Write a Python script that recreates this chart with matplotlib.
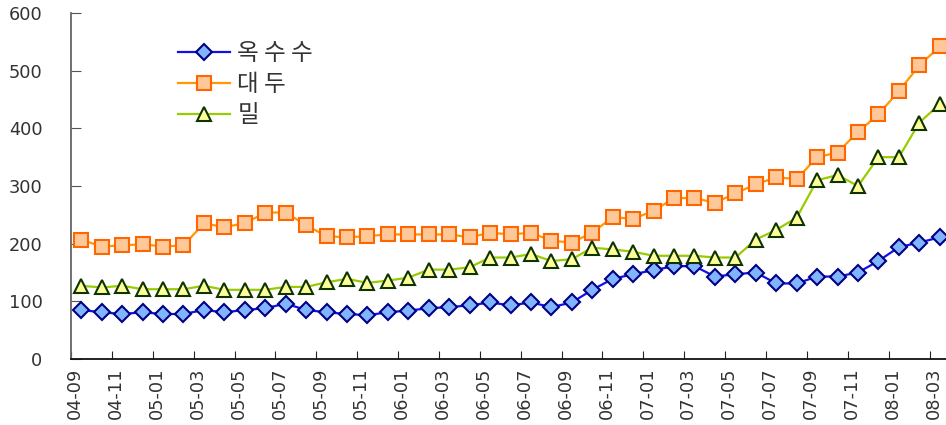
"""Monthly grain price index: corn, soybean and wheat, 2004-09 to 2008-03."""

from matplotlib import pyplot as plt
import numpy as np

MONTHS = ["04-09", "04-10", "04-11", "04-12",
          "05-01", "05-02", "05-03", "05-04", "05-05", "05-06",
          "05-07", "05-08", "05-09", "05-10", "05-11", "05-12",
          "06-01", "06-02", "06-03", "06-04", "06-05", "06-06",
          "06-07", "06-08", "06-09", "06-10", "06-11", "06-12",
          "07-01", "07-02", "07-03", "07-04", "07-05", "07-06",
          "07-07", "07-08", "07-09", "07-10", "07-11", "07-12",
          "08-01", "08-02", "08-03"]

CORN = [85, 81, 78, 81, 78, 78, 85, 81, 85, 88, 96, 85, 81, 78, 76,
        81, 84, 88, 90, 93, 98, 93, 98, 90, 98, 120, 139, 147,
        154, 161, 161, 143, 147, 150, 131, 131, 143, 143, 150, 170,
        194, 202, 211]

SOYBEAN = [207, 195, 197, 199, 195, 197, 235, 229, 235, 254, 254, 232,
           213, 211, 213, 216, 216, 216, 216, 211, 219, 216, 219, 205,
           202, 219, 246, 243, 257, 279, 279, 271, 287, 303, 315, 312,
           350, 358, 394, 424, 465, 509, 542]

WHEAT = [127, 124, 127, 121, 121, 121, 127, 120, 120, 120, 125, 125,
         133, 139, 132, 136, 141, 155, 155, 159, 176, 176, 182, 170,
         173, 193, 190, 186, 179, 179, 179, 176, 176, 207, 224, 245,
         310, 319, 300, 350, 350, 410, 442]

SERIES = [
    ("옥 수 수", CORN, dict(color="#1010ee", marker="D", ms=8.5,
                          mfc="#80b4ff", mec="#000080")),
    ("대 두", SOYBEAN, dict(color="#ff9900", marker="s", ms=9.5,
                          mfc="#ffc898", mec="#ff6600")),
    ("밀", WHEAT, dict(color="#99cc00", marker="^", ms=10.5,
                      mfc="#ffff99", mec="#0f3300")),
]

TEXT_COLOR = "#333333"
KR_FONT = ["Noto Sans CJK KR", "DejaVu Sans"]

fig = plt.figure(figsize=(9.46, 4.25), dpi=100)
# axes runs a little past the right edge, so the last category is cut
ax = fig.add_axes([71 / 946, 66 / 425, 879 / 946, 346 / 425])

x = np.arange(len(MONTHS))
for label, ys, style in SERIES:
    ax.plot(x, ys, lw=1.6, mew=1.5, label=label, **style)

ax.set_xlim(-0.5, len(MONTHS) - 0.5)
ax.set_ylim(0, 600)
ax.set_yticks(np.arange(0, 601, 100))

# tick marks sit on category boundaries, labels just right of them
ax.set_xticks(x[::2] - 0.5)
ax.set_xticklabels([])
ax.set_xticks(x[::2] - 0.3, minor=True)
ax.set_xticklabels(MONTHS[::2], minor=True, rotation=90)
ax.tick_params(axis="x", which="major", direction="in", length=6,
               color="#222222")
ax.tick_params(axis="x", which="minor", length=0, pad=6,
               labelsize=12.8, labelcolor=TEXT_COLOR)
ax.tick_params(axis="y", direction="in", length=7, pad=20.5,
               labelsize=12.8, labelcolor=TEXT_COLOR, color="#555555")

for side in ("top", "right"):
    ax.spines[side].set_visible(False)
ax.spines["left"].set_color("#666666")
ax.spines["bottom"].set_color("#111111")
ax.spines["left"].set_linewidth(1.3)
ax.spines["bottom"].set_linewidth(1.3)

leg = ax.legend(loc="upper left", bbox_to_anchor=(157 / 946, 1 - 21 / 425),
                bbox_transform=fig.transFigure, frameon=False,
                prop={"family": KR_FONT, "size": 17},
                handlelength=2.2, handletextpad=0.3, labelspacing=0.33)
for t in leg.get_texts():
    t.set_color(TEXT_COLOR)

fig.savefig("out.png", dpi=100)
